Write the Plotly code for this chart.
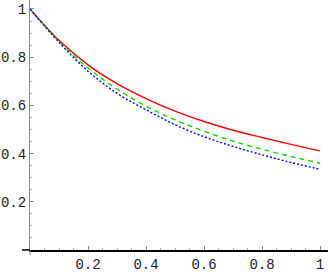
import plotly.graph_objects as go

x_vals = [0.0, 0.1, 0.2, 0.3, 0.4, 0.5, 0.6, 0.7, 0.8, 0.9, 1.0]
red_vals = [1.0, 0.870, 0.768, 0.690, 0.628, 0.576, 0.533, 0.497, 0.467, 0.438, 0.411]
green_vals = [1.0, 0.866, 0.755, 0.668, 0.597, 0.540, 0.493, 0.452, 0.418, 0.388, 0.360]
blue_vals = [1.0, 0.862, 0.742, 0.650, 0.582, 0.520, 0.470, 0.430, 0.395, 0.363, 0.335]

tick_vals = [0.2, 0.4, 0.6, 0.8, 1.0]
tick_text = ["0.2", "0.4", "0.6", "0.8", "1"]
minor_vals = [i * 0.05 for i in range(1, 21)]

fig = go.Figure()
fig.add_trace(go.Scatter(x=x_vals, y=red_vals, mode="lines", line=dict(color="#ff0000", width=1.4, shape="spline")))
fig.add_trace(go.Scatter(x=x_vals, y=green_vals, mode="lines", line=dict(color="#00e000", width=1.4, dash="5px,4px", shape="spline")))
fig.add_trace(go.Scatter(x=x_vals, y=blue_vals, mode="lines", line=dict(color="#0000ff", width=1.4, dash="2px,2px", shape="spline")))

font = dict(family="Liberation Mono", size=14, color="#222222")

fig.update_layout(
    width=328, height=273,
    margin=dict(l=30, r=0, t=0, b=23, autoexpand=False),
    paper_bgcolor="white", plot_bgcolor="white",
    showlegend=False,
    font=font,
    xaxis=dict(range=[0, 1.0276], showgrid=False, zeroline=False, automargin=False,
               showline=True, linecolor="black", linewidth=1.5,
               ticks="inside", ticklen=4, tickcolor="#888888", tickwidth=1,
               tickvals=tick_vals, ticktext=tick_text, ticklabelstandoff=0,
               minor=dict(tickvals=minor_vals, ticks="inside", ticklen=2, tickcolor="#aaaaaa")),
    yaxis=dict(range=[0, 1.0373], showgrid=False, zeroline=False, automargin=False,
               showline=True, linecolor="#888888", linewidth=1,
               ticks="inside", ticklen=4, tickcolor="#888888", tickwidth=1,
               tickvals=tick_vals, ticktext=tick_text, ticklabelstandoff=0,
               minor=dict(tickvals=minor_vals, ticks="inside", ticklen=2, tickcolor="#aaaaaa")),
)
# axis extensions past the origin
fig.add_shape(type="line", xref="paper", yref="paper", x0=-8/298, x1=0, y0=0, y1=0,
              line=dict(color="black", width=1.5))
fig.add_shape(type="line", xref="paper", yref="paper", x0=0, x1=0, y0=-5/250, y1=0,
              line=dict(color="#888888", width=1))

fig.write_html("out.html", config={"displayModeBar": False},
               post_script="document.body.style.margin='0';document.body.style.padding='0';document.body.style.overflow='hidden';")
